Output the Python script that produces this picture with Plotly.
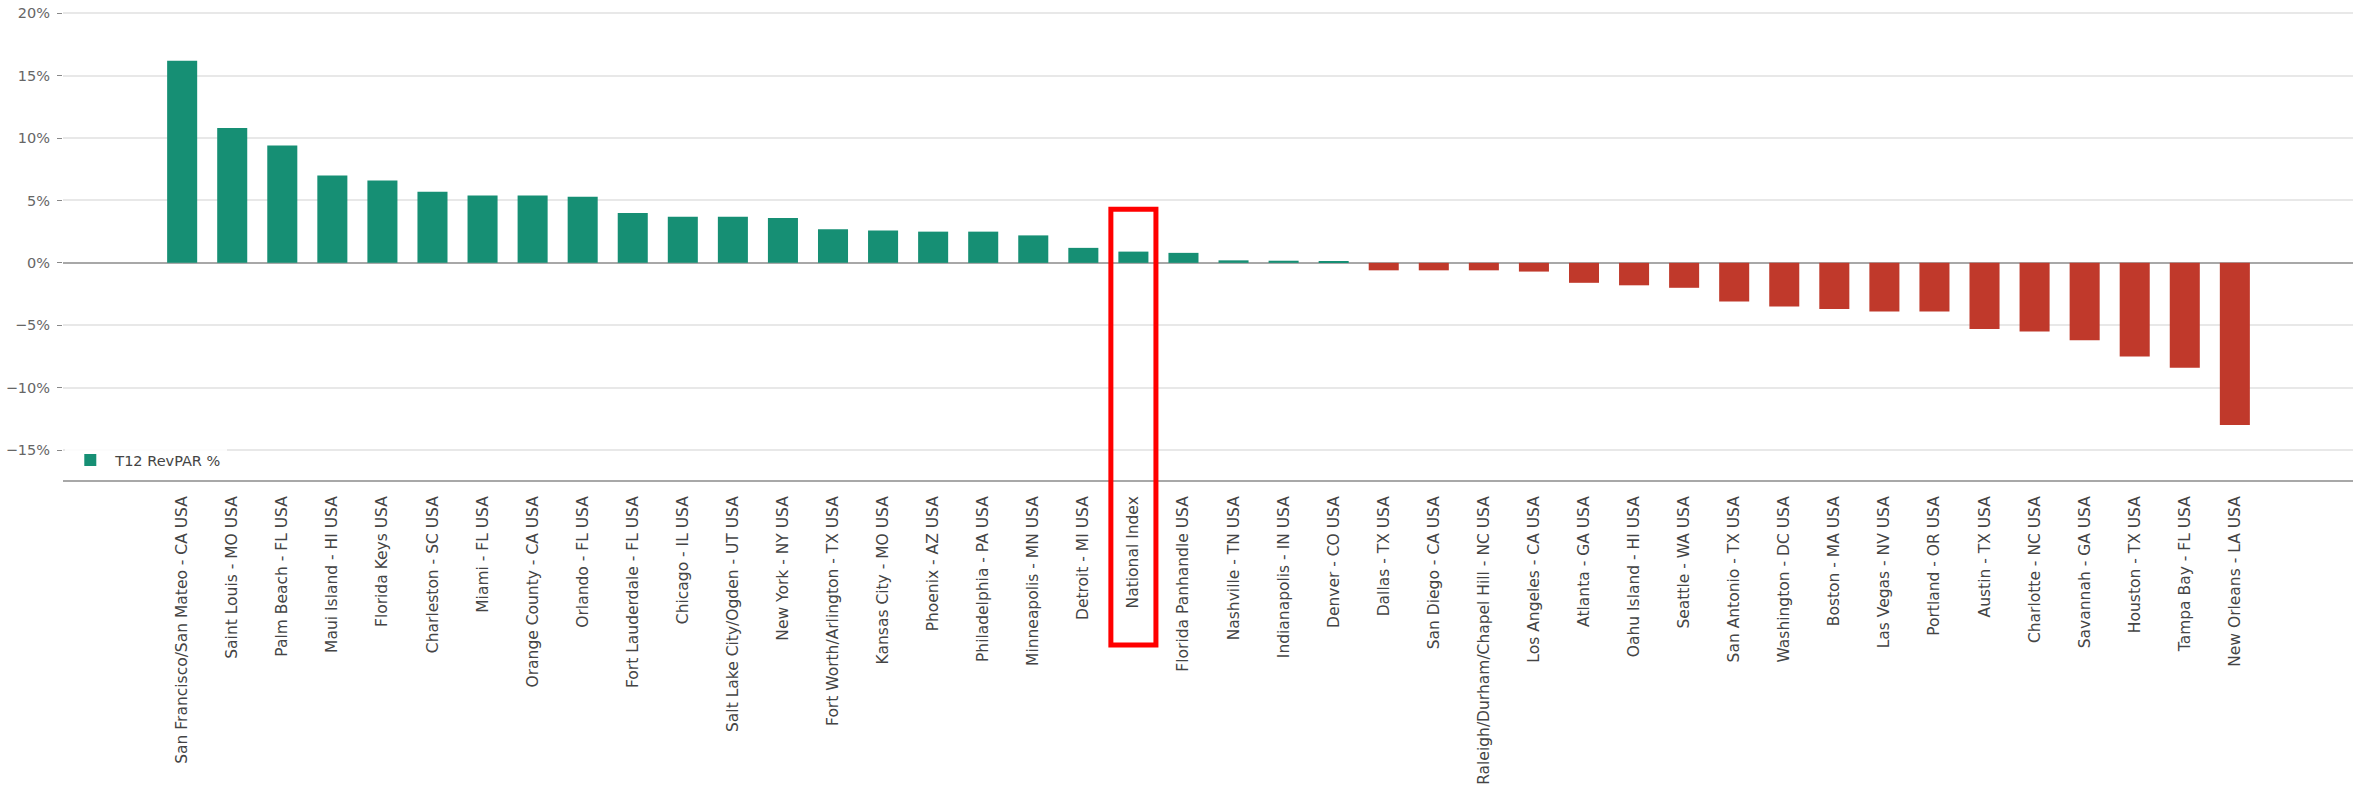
import plotly.graph_objects as go

# T12 RevPAR % change by market, sorted high to low
markets = [
    "San Francisco/San Mateo - CA USA", "Saint Louis - MO USA", "Palm Beach - FL USA",
    "Maui Island - HI USA", "Florida Keys USA", "Charleston - SC USA", "Miami - FL USA",
    "Orange County - CA USA", "Orlando - FL USA", "Fort Lauderdale - FL USA",
    "Chicago - IL USA", "Salt Lake City/Ogden - UT USA", "New York - NY USA",
    "Fort Worth/Arlington - TX USA", "Kansas City - MO USA", "Phoenix - AZ USA",
    "Philadelphia - PA USA", "Minneapolis - MN USA", "Detroit - MI USA", "National Index",
    "Florida Panhandle USA", "Nashville - TN USA", "Indianapolis - IN USA",
    "Denver - CO USA", "Dallas - TX USA", "San Diego - CA USA",
    "Raleigh/Durham/Chapel Hill - NC USA", "Los Angeles - CA USA", "Atlanta - GA USA",
    "Oahu Island - HI USA", "Seattle - WA USA", "San Antonio - TX USA",
    "Washington - DC USA", "Boston - MA USA", "Las Vegas - NV USA", "Portland - OR USA",
    "Austin - TX USA", "Charlotte - NC USA", "Savannah - GA USA", "Houston - TX USA",
    "Tampa Bay - FL USA", "New Orleans - LA USA",
]
revpar_pct = [
    16.2, 10.8, 9.4, 7.0, 6.6, 5.7, 5.4, 5.4, 5.3, 4.0,
    3.7, 3.7, 3.6, 2.7, 2.6, 2.5, 2.5, 2.2, 1.2, 0.9,
    0.8, 0.2, 0.17, 0.1, -0.6, -0.6, -0.6, -0.7, -1.6, -1.8,
    -2.0, -3.1, -3.5, -3.7, -3.9, -3.9, -5.3, -5.5, -6.2, -7.5,
    -8.4, -13.0,
]
highlight = "National Index"
series_name = "T12 RevPAR %"
y_ticks = [-15, -10, -5, 0, 5, 10, 15, 20]
y_tick_text = [("\u2212" if v < 0 else "") + f"{abs(v)}%" for v in y_ticks]

GREEN = "#168f74"
RED = "#c0392b"
FONT = "DejaVu Sans"

bar_colors = [GREEN if v >= 0 else RED for v in revpar_pct]

x_range = [-2.38, len(markets) - 1 + 2.36]
y_range = [-17.4, 20.5]

fig = go.Figure()
fig.add_trace(go.Bar(
    x=markets,
    y=revpar_pct,
    name=series_name,
    marker=dict(color=bar_colors, line=dict(width=0)),
    width=0.6,
    showlegend=True,
))

# Red frame around the national benchmark column, bar plus its label
idx = markets.index(highlight)
span = x_range[1] - x_range[0]
yspan = y_range[1] - y_range[0]
fig.add_shape(
    type="rect", xref="paper", yref="paper",
    x0=(idx - 0.45 - x_range[0]) / span,
    x1=(idx + 0.45 - x_range[0]) / span,
    y0=-0.349,
    y1=(4.3 - y_range[0]) / yspan,
    line=dict(color="#ff0000", width=5),
    fillcolor="rgba(0,0,0,0)",
)

fig.update_layout(
    width=2357, height=794,
    margin=dict(l=63, r=4, t=7, b=314, autoexpand=False),
    paper_bgcolor="white",
    plot_bgcolor="white",
    font=dict(family=FONT, size=14, color="#444"),
    bargap=0.4,
    legend=dict(
        x=0.001, y=0.042, xanchor="left", yanchor="middle",
        bgcolor="rgba(255,255,255,0.85)",
        font=dict(family=FONT, size=14.5, color="#444"),
        itemwidth=40,
    ),
    xaxis=dict(
        type="category",
        range=x_range,
        automargin=False,
        tickangle=-90,
        tickfont=dict(family=FONT, size=15.5, color="#444"),
        showgrid=False,
        showline=True, linecolor="#a8a8a8", linewidth=2,
        ticks="", ticklabelstandoff=8,
    ),
    yaxis=dict(
        range=y_range,
        automargin=False,
        tickmode="array",
        tickvals=y_ticks,
        ticktext=y_tick_text,
        tickfont=dict(family=FONT, size=14.5, color="#666"),
        showgrid=True, gridcolor="#e8e8e8", gridwidth=1.5,
        zeroline=True, zerolinecolor="#a8a8a8", zerolinewidth=1.5,
        showline=False,
        ticks="outside", ticklen=5, tickcolor="#888", tickwidth=1,
        ticklabelstandoff=4,
    ),
)

fig.write_html("out.html")
